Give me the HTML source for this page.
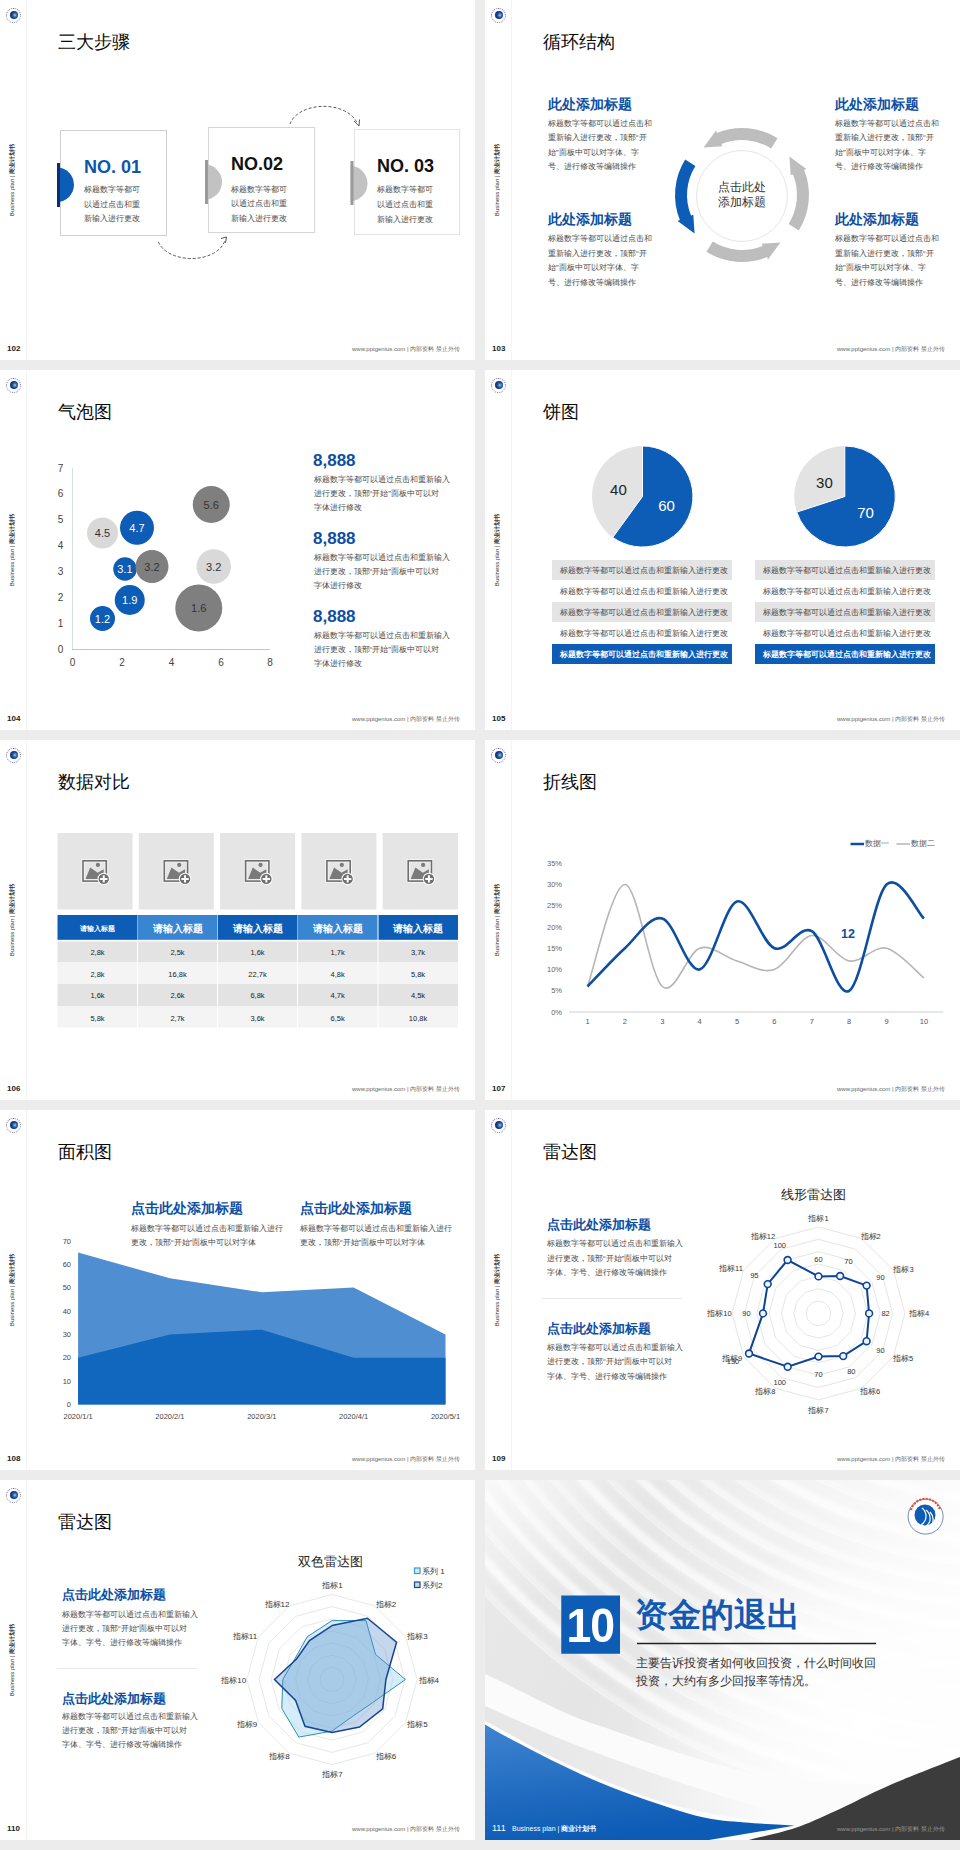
<!DOCTYPE html>
<html><head><meta charset="utf-8">
<style>
*{margin:0;padding:0;box-sizing:border-box}
html,body{width:960px;height:1850px;overflow:hidden;background:#ececec;font-family:"Liberation Sans",sans-serif;color:#333}
.s{position:absolute;width:475px;height:360px;background:#fff;overflow:hidden}
.s>*{position:absolute}
.logo{left:6px;top:7.5px;width:15px;height:15px;border-radius:50%;border:1.2px dotted #6d6aa6;}
.logo:after{content:"";position:absolute;left:2.8px;top:2.8px;width:7.8px;height:7.8px;border-radius:50%;background:radial-gradient(circle at 62% 52%,#9fd6f0 0,#3f78bd 24%,#173b7e 52%,#0f2a5e 100%)}
.vl{left:25.5px;top:0;width:1px;height:360px;background:#f4f4f4}
.side{left:12px;top:180px;width:90px;height:8px;margin-left:-45px;margin-top:-4px;transform:rotate(-90deg);font-size:6px;line-height:8px;text-align:center;color:#333;white-space:nowrap}
.pg{left:7px;top:344px;font-size:8px;line-height:10px;font-weight:bold;color:#222}
.ft{left:352px;top:345px;font-size:6px;line-height:8px;color:#666;white-space:nowrap}
.ttl{left:58px;top:30px;font-size:18px;line-height:24px;color:#0a0a0a;white-space:nowrap}
.t9{font-size:8.5px;line-height:14.4px;color:#474747;white-space:nowrap}
.h14{font-size:13.5px;line-height:16px;font-weight:bold;color:#0c4fa3;white-space:nowrap}
</style></head><body>

<!-- 102 -->
<div class="s" style="left:0;top:0">
<div class="logo"></div><div class="vl"></div><div class="side">Business plan | <b>商业计划书</b></div><div class="pg">102</div><div class="ft">www.pptgenius.com | 内部资料 禁止外传</div>
<div class="ttl">三大步骤</div>
<svg style="left:0;top:0" width="475" height="360">
<rect x="60.5" y="130.5" width="106" height="105" fill="#fff" stroke="#cfcfcf"/>
<rect x="208.5" y="127.5" width="106" height="105" fill="#fff" stroke="#d6d6d6"/>
<rect x="354.5" y="129.5" width="105" height="105" fill="#fff" stroke="#e3e3e3"/>
<path d="M57 167.5 A17 17.25 0 0 1 57 202 Z" fill="#0d5cb6"/><rect x="57" y="163" width="3" height="44" fill="#0b2f6e"/>
<path d="M205 164.5 A17 17.5 0 0 1 205 199.5 Z" fill="#c2c2c2"/><rect x="205" y="160" width="3" height="44" fill="#9a9a9a"/>
<path d="M350.5 166 A17 17.5 0 0 1 350.5 201 Z" fill="#c2c2c2"/><rect x="350.5" y="161" width="3" height="44" fill="#9a9a9a"/>
<path d="M290 124 A34.5 22.5 0 0 1 357 123" fill="none" stroke="#555" stroke-width="1" stroke-dasharray="3 2"/>
<path d="M354 121 L359 126 L359.5 119.5" fill="none" stroke="#555" stroke-width="1"/>
<path d="M158.5 242 A34 22 0 0 0 225 240" fill="none" stroke="#555" stroke-width="1" stroke-dasharray="3 2"/>
<path d="M221 238.5 L226.5 237 L225.5 243" fill="none" stroke="#555" stroke-width="1"/>
</svg>
<div style="left:84px;top:156px;font-size:18px;line-height:22px;font-weight:bold;color:#0d56ab;white-space:nowrap">NO. 01</div>
<div style="left:231px;top:153px;font-size:18px;line-height:22px;font-weight:bold;color:#111;white-space:nowrap">NO.02</div>
<div style="left:377px;top:155px;font-size:18px;line-height:22px;font-weight:bold;color:#111;white-space:nowrap">NO. 03</div>
<div class="t9" style="left:84px;top:183px;font-size:8px;line-height:14.6px">标题数字等都可<br>以通过点击和重<br>新输入进行更改</div>
<div class="t9" style="left:231px;top:182.5px;font-size:8px;line-height:14.8px">标题数字等都可<br>以通过点击和重<br>新输入进行更改</div>
<div class="t9" style="left:377px;top:183px;font-size:8px;line-height:14.8px">标题数字等都可<br>以通过点击和重<br>新输入进行更改</div>
</div>

<!-- 103 -->
<div class="s" style="left:485px;top:0">
<div class="logo"></div><div class="vl"></div><div class="side">Business plan | <b>商业计划书</b></div><div class="pg">103</div><div class="ft">www.pptgenius.com | 内部资料 禁止外传</div>
<div class="ttl">循环结构</div>
<svg style="left:0;top:0" width="475" height="360">
<circle cx="257" cy="196" r="45.5" fill="#fff" stroke="#e6e6e6" stroke-width="1"/>
<path d="M292.5 138.2 A67.0 67.0 0 0 0 231.9 132.9 L231.0 130.6 L218.6 147.6 L237.3 146.3 L236.4 144.0 A55.0 55.0 0 0 1 286.1 148.4 Z" fill="#bdbdbd"/>
<path d="M200.2 159.5 A67.0 67.0 0 0 0 194.9 220.1 L192.6 221.0 L209.6 233.4 L208.3 214.7 L206.0 215.6 A55.0 55.0 0 0 1 210.4 165.9 Z" fill="#0d5cb6"/>
<path d="M221.5 251.8 A67.0 67.0 0 0 0 282.1 257.1 L283.0 259.4 L295.4 242.4 L276.7 243.7 L277.6 246.0 A55.0 55.0 0 0 1 227.9 241.6 Z" fill="#bdbdbd"/>
<path d="M313.8 230.5 A67.0 67.0 0 0 0 319.1 169.9 L321.4 169.0 L304.4 156.6 L305.7 175.3 L308.0 174.4 A55.0 55.0 0 0 1 303.6 224.1 Z" fill="#bdbdbd"/>
</svg>
<div style="left:207px;top:180px;width:100px;text-align:center;font-size:12px;line-height:15px;color:#333">点击此处<br>添加标题</div>
<div class="h14" style="left:63px;top:96.5px">此处添加标题</div>
<div class="h14" style="left:350px;top:96.5px">此处添加标题</div>
<div class="h14" style="left:63px;top:212px">此处添加标题</div>
<div class="h14" style="left:350px;top:212px">此处添加标题</div>
<div class="t9" style="left:63px;top:116.8px;font-size:8px;line-height:14.4px">标题数字等都可以通过点击和<br>重新输入进行更改，顶部“开<br>始”面板中可以对字体、字<br>号、进行修改等编辑操作</div>
<div class="t9" style="left:350px;top:116.8px;font-size:8px;line-height:14.4px">标题数字等都可以通过点击和<br>重新输入进行更改，顶部“开<br>始”面板中可以对字体、字<br>号、进行修改等编辑操作</div>
<div class="t9" style="left:63px;top:232.3px;font-size:8px;line-height:14.4px">标题数字等都可以通过点击和<br>重新输入进行更改，顶部“开<br>始”面板中可以对字体、字<br>号、进行修改等编辑操作</div>
<div class="t9" style="left:350px;top:232.3px;font-size:8px;line-height:14.4px">标题数字等都可以通过点击和<br>重新输入进行更改，顶部“开<br>始”面板中可以对字体、字<br>号、进行修改等编辑操作</div>
</div>

<!-- 104 -->
<div class="s" style="left:0;top:370px">
<div class="logo"></div><div class="vl"></div><div class="side">Business plan | <b>商业计划书</b></div><div class="pg">104</div><div class="ft">www.pptgenius.com | 内部资料 禁止外传</div>
<div class="ttl">气泡图</div>
<svg style="left:0;top:0" width="475" height="360" font-family="Liberation Sans" font-size="10">
<line x1="72.5" y1="98" x2="72.5" y2="279.5" stroke="#d5dde8" stroke-width="1"/>
<line x1="72" y1="279.5" x2="270" y2="279.5" stroke="#b9c9dd" stroke-width="1"/>
<g fill="#444" text-anchor="middle">
<text x="60.5" y="283">0</text><text x="60.5" y="257">1</text><text x="60.5" y="231">2</text><text x="60.5" y="205">3</text><text x="60.5" y="179">4</text><text x="60.5" y="153">5</text><text x="60.5" y="127">6</text><text x="60.5" y="101.5">7</text>
<text x="72.5" y="296">0</text><text x="122" y="296">2</text><text x="171.5" y="296">4</text><text x="221" y="296">6</text><text x="270" y="296">8</text>
</g>
<circle cx="102.5" cy="163" r="15.5" fill="#d9d9d9"/>
<circle cx="137" cy="157.75" r="17" fill="#0d5cb6"/>
<circle cx="211.25" cy="134.5" r="18.5" fill="#7f7f7f"/>
<circle cx="125" cy="199" r="11.75" fill="#0d5cb6"/>
<circle cx="152" cy="196.5" r="16.5" fill="#7f7f7f"/>
<circle cx="213.75" cy="196.5" r="17.25" fill="#d9d9d9"/>
<circle cx="129.75" cy="230" r="15" fill="#0d5cb6"/>
<circle cx="198.75" cy="238" r="23.5" fill="#7f7f7f"/>
<circle cx="102.5" cy="248.5" r="12.5" fill="#0d5cb6"/>
<g text-anchor="middle" font-size="11">
<text x="102.5" y="167" fill="#333">4.5</text>
<text x="137" y="161.75" fill="#fff">4.7</text>
<text x="211.25" y="138.5" fill="#333">5.6</text>
<text x="125" y="203" fill="#fff">3.1</text>
<text x="152" y="200.5" fill="#333">3.2</text>
<text x="213.75" y="200.5" fill="#333">3.2</text>
<text x="129.75" y="234" fill="#fff">1.9</text>
<text x="198.75" y="242" fill="#333">1.6</text>
<text x="102.5" y="252.5" fill="#fff">1.2</text>
</g>
</svg>
<div style="left:313px;top:81px;font-size:17px;line-height:20px;font-weight:bold;color:#0d4ea3">8,888</div>
<div style="left:313px;top:159px;font-size:17px;line-height:20px;font-weight:bold;color:#0d4ea3">8,888</div>
<div style="left:313px;top:237px;font-size:17px;line-height:20px;font-weight:bold;color:#0d4ea3">8,888</div>
<div class="t9" style="left:313.5px;top:103px;font-size:8px;line-height:14px">标题数字等都可以通过点击和重新输入<br>进行更改，顶部“开始”面板中可以对<br>字体进行修改</div>
<div class="t9" style="left:313.5px;top:181px;font-size:8px;line-height:14px">标题数字等都可以通过点击和重新输入<br>进行更改，顶部“开始”面板中可以对<br>字体进行修改</div>
<div class="t9" style="left:313.5px;top:259px;font-size:8px;line-height:14px">标题数字等都可以通过点击和重新输入<br>进行更改，顶部“开始”面板中可以对<br>字体进行修改</div>
</div>

<!-- 105 -->
<div class="s" style="left:485px;top:370px">
<div class="logo"></div><div class="vl"></div><div class="side">Business plan | <b>商业计划书</b></div><div class="pg">105</div><div class="ft">www.pptgenius.com | 内部资料 禁止外传</div>
<div class="ttl">饼图</div>
<svg style="left:0;top:0" width="475" height="360" font-family="Liberation Sans">
<circle cx="157.5" cy="126.5" r="50.5" fill="#e3e3e3"/>
<path d="M157.5 126.5 L157.5 76 A50.5 50.5 0 1 1 127.8 167.4 Z" fill="#0d5cb6" stroke="#fff" stroke-width="1"/>
<circle cx="359.8" cy="126.5" r="50.5" fill="#e3e3e3"/>
<path d="M359.8 126.5 L359.8 76 A50.5 50.5 0 1 1 311.8 142.1 Z" fill="#0d5cb6" stroke="#fff" stroke-width="1"/>
<g font-size="15" text-anchor="middle">
<text x="133.4" y="124.6" fill="#222">40</text>
<text x="181.5" y="140.5" fill="#fff">60</text>
<text x="339.4" y="118" fill="#222">30</text>
<text x="380.5" y="148" fill="#fff">70</text>
</g>
<g fill="#e4e4e4"><rect x="67" y="190" width="180" height="20"/><rect x="67" y="232" width="180" height="20"/><rect x="270" y="190" width="180" height="20"/><rect x="270" y="232" width="180" height="20"/></g>
<g fill="#0d5cb6"><rect x="67" y="274" width="180" height="20"/><rect x="270" y="274" width="180" height="20"/></g>
</svg>
<div class="t9" style="left:75px;top:190px;font-size:7.85px;line-height:21px">标题数字等都可以通过点击和重新输入进行更改<br>标题数字等都可以通过点击和重新输入进行更改<br>标题数字等都可以通过点击和重新输入进行更改<br>标题数字等都可以通过点击和重新输入进行更改<br><b style="color:#fff">标题数字等都可以通过点击和重新输入进行更改</b></div>
<div class="t9" style="left:278px;top:190px;font-size:7.85px;line-height:21px">标题数字等都可以通过点击和重新输入进行更改<br>标题数字等都可以通过点击和重新输入进行更改<br>标题数字等都可以通过点击和重新输入进行更改<br>标题数字等都可以通过点击和重新输入进行更改<br><b style="color:#fff">标题数字等都可以通过点击和重新输入进行更改</b></div>
</div>

<!-- 106 -->
<div class="s" style="left:0;top:740px">
<div class="logo"></div><div class="vl"></div><div class="side">Business plan | <b>商业计划书</b></div><div class="pg">106</div><div class="ft">www.pptgenius.com | 内部资料 禁止外传</div>
<div class="ttl">数据对比</div>
<svg style="left:0;top:0" width="475" height="360" font-family="Liberation Sans">

<g fill="#e6e5e6">
<rect x="57.5" y="93" width="75" height="76.5"/><rect x="138.8" y="93" width="75" height="76.5"/><rect x="220.1" y="93" width="75" height="76.5"/><rect x="301.4" y="93" width="75" height="76.5"/><rect x="382.7" y="93" width="75.3" height="76.5"/>
</g>
<g transform="translate(57.5 93)">
<rect x="25.5" y="27.8" width="23.3" height="20.3" fill="none" stroke="#fff" stroke-width="3.2" opacity=".7"/>
<rect x="25.5" y="27.8" width="23.3" height="20.3" fill="none" stroke="#6e6e6e" stroke-width="1.6"/>
<path d="M28 45.9 L32.7 34.6 L40.2 39.8 L46.2 36.3 L46.2 45.9 Z" fill="#7a7a7a"/>
<circle cx="40.4" cy="31.9" r="2.1" fill="#7a7a7a"/>
<circle cx="46.25" cy="45.9" r="6.2" fill="#fff"/>
<circle cx="46.25" cy="45.9" r="5.2" fill="#6e6e6e"/>
<path d="M46.25 42.2 V49.6 M42.55 45.9 H49.95" stroke="#fff" stroke-width="2"/>
</g><g transform="translate(138.8 93)">
<rect x="25.5" y="27.8" width="23.3" height="20.3" fill="none" stroke="#fff" stroke-width="3.2" opacity=".7"/>
<rect x="25.5" y="27.8" width="23.3" height="20.3" fill="none" stroke="#6e6e6e" stroke-width="1.6"/>
<path d="M28 45.9 L32.7 34.6 L40.2 39.8 L46.2 36.3 L46.2 45.9 Z" fill="#7a7a7a"/>
<circle cx="40.4" cy="31.9" r="2.1" fill="#7a7a7a"/>
<circle cx="46.25" cy="45.9" r="6.2" fill="#fff"/>
<circle cx="46.25" cy="45.9" r="5.2" fill="#6e6e6e"/>
<path d="M46.25 42.2 V49.6 M42.55 45.9 H49.95" stroke="#fff" stroke-width="2"/>
</g><g transform="translate(220.1 93)">
<rect x="25.5" y="27.8" width="23.3" height="20.3" fill="none" stroke="#fff" stroke-width="3.2" opacity=".7"/>
<rect x="25.5" y="27.8" width="23.3" height="20.3" fill="none" stroke="#6e6e6e" stroke-width="1.6"/>
<path d="M28 45.9 L32.7 34.6 L40.2 39.8 L46.2 36.3 L46.2 45.9 Z" fill="#7a7a7a"/>
<circle cx="40.4" cy="31.9" r="2.1" fill="#7a7a7a"/>
<circle cx="46.25" cy="45.9" r="6.2" fill="#fff"/>
<circle cx="46.25" cy="45.9" r="5.2" fill="#6e6e6e"/>
<path d="M46.25 42.2 V49.6 M42.55 45.9 H49.95" stroke="#fff" stroke-width="2"/>
</g><g transform="translate(301.4 93)">
<rect x="25.5" y="27.8" width="23.3" height="20.3" fill="none" stroke="#fff" stroke-width="3.2" opacity=".7"/>
<rect x="25.5" y="27.8" width="23.3" height="20.3" fill="none" stroke="#6e6e6e" stroke-width="1.6"/>
<path d="M28 45.9 L32.7 34.6 L40.2 39.8 L46.2 36.3 L46.2 45.9 Z" fill="#7a7a7a"/>
<circle cx="40.4" cy="31.9" r="2.1" fill="#7a7a7a"/>
<circle cx="46.25" cy="45.9" r="6.2" fill="#fff"/>
<circle cx="46.25" cy="45.9" r="5.2" fill="#6e6e6e"/>
<path d="M46.25 42.2 V49.6 M42.55 45.9 H49.95" stroke="#fff" stroke-width="2"/>
</g><g transform="translate(382.7 93)">
<rect x="25.5" y="27.8" width="23.3" height="20.3" fill="none" stroke="#fff" stroke-width="3.2" opacity=".7"/>
<rect x="25.5" y="27.8" width="23.3" height="20.3" fill="none" stroke="#6e6e6e" stroke-width="1.6"/>
<path d="M28 45.9 L32.7 34.6 L40.2 39.8 L46.2 36.3 L46.2 45.9 Z" fill="#7a7a7a"/>
<circle cx="40.4" cy="31.9" r="2.1" fill="#7a7a7a"/>
<circle cx="46.25" cy="45.9" r="6.2" fill="#fff"/>
<circle cx="46.25" cy="45.9" r="5.2" fill="#6e6e6e"/>
<path d="M46.25 42.2 V49.6 M42.55 45.9 H49.95" stroke="#fff" stroke-width="2"/>
</g>
<rect x="57.5" y="175" width="80" height="24.8" fill="#0d5cb6"/>
<rect x="138" y="175" width="79.5" height="24.8" fill="#3a85d2"/>
<rect x="218" y="175" width="79.5" height="24.8" fill="#0d5cb6"/>
<rect x="298" y="175" width="79.5" height="24.8" fill="#3a85d2"/>
<rect x="378.5" y="175" width="79.5" height="24.8" fill="#0d5cb6"/>
<g fill="#e3e3e3"><rect x="57.5" y="201.5" width="400.5" height="20.5"/><rect x="57.5" y="244" width="400.5" height="22"/></g>
<g fill="#f4f4f4"><rect x="57.5" y="222" width="400.5" height="22"/><rect x="57.5" y="266" width="400.5" height="21.5"/></g>
<g stroke="#fff" stroke-width="1"><line x1="137.5" y1="201" x2="137.5" y2="288"/><line x1="217.5" y1="201" x2="217.5" y2="288"/><line x1="297.5" y1="201" x2="297.5" y2="288"/><line x1="378" y1="201" x2="378" y2="288"/></g>
<g fill="#fff" font-weight="bold" text-anchor="middle">
<text x="97.5" y="190.5" font-size="7">请输入标题</text>
<text x="177.5" y="191.5" font-size="9.5">请输入标题</text><text x="257.5" y="191.5" font-size="9.5">请输入标题</text><text x="337.7" y="191.5" font-size="9.5">请输入标题</text><text x="418" y="191.5" font-size="9.5">请输入标题</text>
</g>
<g fill="#222" font-size="7.5" text-anchor="middle">
<text x="97.5" y="214.8">2,8k</text><text x="177.5" y="214.8">2,5k</text><text x="257.5" y="214.8">1,6k</text><text x="337.7" y="214.8">1,7k</text><text x="418" y="214.8">3,7k</text>
<text x="97.5" y="236.7">2,8k</text><text x="177.5" y="236.7">16,8k</text><text x="257.5" y="236.7">22,7k</text><text x="337.7" y="236.7">4,8k</text><text x="418" y="236.7">5,8k</text>
<text x="97.5" y="258.4">1,6k</text><text x="177.5" y="258.4">2,6k</text><text x="257.5" y="258.4">6,8k</text><text x="337.7" y="258.4">4,7k</text><text x="418" y="258.4">4,5k</text>
<text x="97.5" y="280.5">5,8k</text><text x="177.5" y="280.5">2,7k</text><text x="257.5" y="280.5">3,6k</text><text x="337.7" y="280.5">6,5k</text><text x="418" y="280.5">10,8k</text>
</g>
</svg>
</div>

<!-- 107 -->
<div class="s" style="left:485px;top:740px">
<div class="logo"></div><div class="vl"></div><div class="side">Business plan | <b>商业计划书</b></div><div class="pg">107</div><div class="ft">www.pptgenius.com | 内部资料 禁止外传</div>
<div class="ttl">折线图</div>
<svg style="left:0;top:0" width="475" height="360" font-family="Liberation Sans">
<line x1="84" y1="272" x2="458.5" y2="272" stroke="#d0d0d0" stroke-width="1"/>
<g fill="#666" font-size="7.5" text-anchor="end">
<text x="77" y="274.7">0%</text><text x="77" y="253.4">5%</text><text x="77" y="232.2">10%</text><text x="77" y="210.9">15%</text><text x="77" y="189.7">20%</text><text x="77" y="168.4">25%</text><text x="77" y="147.2">30%</text><text x="77" y="125.9">35%</text>
</g>
<g fill="#555" font-size="7.5" text-anchor="middle">
<text x="102.5" y="284">1</text><text x="139.9" y="284">2</text><text x="177.3" y="284">3</text><text x="214.6" y="284">4</text><text x="252" y="284">5</text><text x="289.4" y="284">6</text><text x="326.8" y="284">7</text><text x="364.2" y="284">8</text><text x="401.5" y="284">9</text><text x="438.9" y="284">10</text>
</g>
<path d="M102.5 246.5 C108.7 229.5 127.4 144.5 139.9 144.5 C152.3 144.5 164.8 235.9 177.3 246.5 C189.7 257.1 202.2 212.5 214.6 208.2 C227.1 204.0 239.6 217.5 252.0 221.0 C264.5 224.5 276.9 233.8 289.4 229.5 C301.9 225.2 314.3 196.9 326.8 195.5 C339.2 194.1 351.7 218.9 364.2 221.0 C376.6 223.1 389.1 205.4 401.5 208.2 C414.0 211.1 432.7 233.0 438.9 238.0" fill="none" stroke="#b5b5b5" stroke-width="1.6"/>
<path d="M102.5 246.5 C108.7 240.1 127.4 219.6 139.9 208.2 C152.3 196.9 164.8 175.0 177.3 178.5 C189.7 182.0 202.2 232.3 214.6 229.5 C227.1 226.7 239.6 165.0 252.0 161.5 C264.5 158.0 276.9 203.3 289.4 208.2 C301.9 213.2 314.3 184.2 326.8 191.2 C339.2 198.3 351.7 258.5 364.2 250.8 C376.6 243.0 389.1 156.5 401.5 144.5 C414.0 132.5 432.7 172.8 438.9 178.5" fill="none" stroke="#0d4ea0" stroke-width="2.6"/>
<line x1="365.5" y1="104" x2="379" y2="104" stroke="#0d4ea0" stroke-width="2.5"/>
<line x1="411.5" y1="104" x2="425" y2="104" stroke="#b5b5b5" stroke-width="1.5"/>
<text x="356" y="198" font-size="12.5" font-weight="bold" fill="#0d4ea0">12</text>
</svg>
<div style="left:380px;top:99px;font-size:8px;line-height:10px;color:#555;white-space:nowrap">数据一</div>
<div style="left:426px;top:99px;font-size:8px;line-height:10px;color:#555;white-space:nowrap">数据二</div>
</div>

<!-- 108 -->
<div class="s" style="left:0;top:1110px">
<div class="logo"></div><div class="vl"></div><div class="side">Business plan | <b>商业计划书</b></div><div class="pg">108</div><div class="ft">www.pptgenius.com | 内部资料 禁止外传</div>
<div class="ttl">面积图</div>
<svg style="left:0;top:0" width="475" height="360" font-family="Liberation Sans">
<polygon points="78.1,294.5 78.1,142.6 169.9,168.3 261.8,182.3 353.6,177.6 445.5,224.4 445.5,294.5" fill="#4e8ed1"/>
<polygon points="78.1,294.5 78.1,247.8 169.9,224.4 261.8,219.7 353.6,247.8 445.5,247.8 445.5,294.5" fill="#1167be"/>
<g fill="#444" font-size="7.5" text-anchor="end">
<text x="71" y="297.1">0</text><text x="71" y="273.7">10</text><text x="71" y="250.4">20</text><text x="71" y="227.0">30</text><text x="71" y="203.6">40</text><text x="71" y="180.2">50</text><text x="71" y="156.9">60</text><text x="71" y="133.5">70</text>
</g>
<g fill="#444" font-size="7.5" text-anchor="middle">
<text x="78.1" y="308.5">2020/1/1</text><text x="169.9" y="308.5">2020/2/1</text><text x="261.8" y="308.5">2020/3/1</text><text x="353.6" y="308.5">2020/4/1</text><text x="445.5" y="308.5">2020/5/1</text>
</g>
</svg>
<div class="h14" style="left:130.5px;top:90.5px;font-size:13.5px">点击此处添加标题</div>
<div class="h14" style="left:299.5px;top:90.5px;font-size:13.5px">点击此处添加标题</div>
<div class="t9" style="left:131px;top:111.5px;font-size:8px;line-height:14.2px">标题数字等都可以通过点击和重新输入进行<br>更改，顶部“开始”面板中可以对字体</div>
<div class="t9" style="left:300px;top:111.5px;font-size:8px;line-height:14.2px">标题数字等都可以通过点击和重新输入进行<br>更改，顶部“开始”面板中可以对字体</div>
</div>

<!-- 109 -->
<div class="s" style="left:485px;top:1110px">
<div class="logo"></div><div class="vl"></div><div class="side">Business plan | <b>商业计划书</b></div><div class="pg">109</div><div class="ft">www.pptgenius.com | 内部资料 禁止外传</div>
<div class="ttl">雷达图</div>
<svg style="left:0;top:0" width="475" height="360" font-family="Liberation Sans">
<line x1="56.5" y1="188.5" x2="197" y2="188.5" stroke="#e8e8e8" stroke-width="1"/>
<g fill="none" stroke="#e6e6e6" stroke-width="1">
<polygon points="333.5,191.1 339.7,192.7 344.2,197.2 345.9,203.4 344.2,209.6 339.7,214.1 333.5,215.8 327.3,214.1 322.8,209.6 321.1,203.4 322.8,197.2 327.3,192.7"/>
<polygon points="333.5,178.7 345.9,182.0 354.9,191.1 358.2,203.4 354.9,215.8 345.9,224.8 333.5,228.1 321.1,224.8 312.1,215.8 308.8,203.4 312.1,191.1 321.1,182.0"/>
<polygon points="333.5,166.4 352.0,171.3 365.6,184.9 370.6,203.4 365.6,221.9 352.0,235.5 333.5,240.4 315.0,235.5 301.4,221.9 296.4,203.4 301.4,184.9 315.0,171.3"/>
<polygon points="333.5,154.0 358.2,160.6 376.3,178.7 382.9,203.4 376.3,228.1 358.2,246.2 333.5,252.8 308.8,246.2 290.7,228.1 284.1,203.4 290.7,178.7 308.8,160.6"/>
<polygon points="333.5,141.7 364.4,149.9 387.0,172.5 395.2,203.4 387.0,234.3 364.4,256.9 333.5,265.1 302.6,256.9 280.0,234.3 271.8,203.4 280.0,172.5 302.6,149.9"/>
<polygon points="333.5,129.3 370.6,139.2 397.7,166.4 407.6,203.4 397.7,240.4 370.6,267.6 333.5,277.5 296.5,267.6 269.3,240.4 259.4,203.4 269.3,166.3 296.4,139.2"/>
<polygon points="333.5,117.0 376.7,128.5 408.4,160.2 419.9,203.4 408.4,246.6 376.7,278.3 333.5,289.9 290.3,278.3 258.6,246.6 247.1,203.4 258.6,160.2 290.3,128.5"/>
</g>
<polygon points="333.5,166.4 355.1,166.0 381.6,175.6 384.1,203.4 381.6,231.2 358.2,246.1 333.5,246.6 302.7,256.8 264.0,243.5 278.0,203.4 282.7,174.1 302.6,150.0" fill="none" stroke="#0d4497" stroke-width="2"/>
<g fill="#eef6fc" stroke="#0d4497" stroke-width="1.6">
<circle cx="333.5" cy="166.4" r="3.4"/><circle cx="355.1" cy="166.0" r="3.4"/><circle cx="381.6" cy="175.6" r="3.4"/><circle cx="384.1" cy="203.4" r="3.4"/><circle cx="381.6" cy="231.2" r="3.4"/><circle cx="358.2" cy="246.1" r="3.4"/><circle cx="333.5" cy="246.6" r="3.4"/><circle cx="302.7" cy="256.8" r="3.4"/><circle cx="264.0" cy="243.5" r="3.4"/><circle cx="278.0" cy="203.4" r="3.4"/><circle cx="282.7" cy="174.1" r="3.4"/><circle cx="302.6" cy="150.0" r="3.4"/>
</g>
<g fill="#333" font-size="7.5" text-anchor="middle">
<text x="333.5" y="111">指标1</text><text x="385.7" y="128.7">指标2</text><text x="418.5" y="161.5">指标3</text><text x="434" y="206.1">指标4</text><text x="418" y="251.3">指标5</text><text x="385" y="284.2">指标6</text><text x="333.5" y="302.7">指标7</text><text x="280.3" y="284.2">指标8</text><text x="247" y="250.7">指标9</text><text x="234.5" y="206.1">指标10</text><text x="246" y="161.2">指标11</text><text x="278" y="128.7">指标12</text>
<text x="333.5" y="152.3">60</text><text x="363.5" y="154.1">70</text><text x="395.4" y="170.2">90</text><text x="400.6" y="206.1">82</text><text x="395.4" y="243.3">90</text><text x="366.3" y="264.1">80</text><text x="333.5" y="267.3">70</text><text x="294.8" y="275.3">100</text><text x="248" y="254">130</text><text x="261.5" y="206.1">90</text><text x="269.3" y="168.3">95</text><text x="294.8" y="138.1">100</text>
</g>
<text x="328" y="88.5" font-size="13" fill="#222" text-anchor="middle">线形雷达图</text>
</svg>
<div class="h14" style="left:61.5px;top:107px;font-size:13px">点击此处添加标题</div>
<div class="h14" style="left:61.5px;top:210.7px;font-size:13px">点击此处添加标题</div>
<div class="t9" style="left:62px;top:127px;font-size:8px;line-height:14.5px">标题数字等都可以通过点击和重新输入<br>进行更改，顶部“开始”面板中可以对<br>字体、字号、进行修改等编辑操作</div>
<div class="t9" style="left:62px;top:230.7px;font-size:8px;line-height:14.5px">标题数字等都可以通过点击和重新输入<br>进行更改，顶部“开始”面板中可以对<br>字体、字号、进行修改等编辑操作</div>
</div>

<!-- 110 -->
<div class="s" style="left:0;top:1480px">
<div class="logo"></div><div class="vl"></div><div class="side">Business plan | <b>商业计划书</b></div><div class="pg">110</div><div class="ft">www.pptgenius.com | 内部资料 禁止外传</div>
<div class="ttl">雷达图</div>
<svg style="left:0;top:0" width="475" height="360" font-family="Liberation Sans">
<line x1="56.5" y1="188.5" x2="197.5" y2="188.5" stroke="#e8e8e8" stroke-width="1"/>
<g fill="none" stroke="#e8e8e8" stroke-width="1">
<polygon points="332.0,187.3 338.1,189.0 342.5,193.4 344.1,199.5 342.5,205.6 338.1,210.0 332.0,211.7 325.9,210.0 321.5,205.6 319.9,199.5 321.5,193.4 325.9,189.0"/>
<polygon points="332.0,175.2 344.1,178.5 353.0,187.3 356.3,199.5 353.0,211.7 344.1,220.5 332.0,223.8 319.9,220.5 311.0,211.7 307.7,199.5 311.0,187.3 319.8,178.5"/>
<polygon points="332.0,163.1 350.2,167.9 363.6,181.3 368.4,199.5 363.6,217.7 350.2,231.1 332.0,235.9 313.8,231.1 300.4,217.7 295.6,199.5 300.4,181.3 313.8,167.9"/>
<polygon points="332.0,150.9 356.3,157.4 374.1,175.2 380.6,199.5 374.1,223.8 356.3,241.6 332.0,248.1 307.7,241.6 289.9,223.8 283.4,199.5 289.9,175.2 307.7,157.4"/>
<polygon points="332.0,138.8 362.4,146.9 384.6,169.1 392.8,199.5 384.6,229.9 362.4,252.1 332.0,260.2 301.6,252.1 279.4,229.9 271.2,199.5 279.4,169.1 301.6,146.9"/>
<polygon points="332.0,126.6 368.4,136.4 395.1,163.1 404.9,199.5 395.1,235.9 368.4,262.6 332.0,272.4 295.6,262.6 268.9,235.9 259.1,199.5 268.9,163.0 295.5,136.4"/>
<polygon points="332.0,114.5 374.5,125.8 405.7,157.0 417.1,199.5 405.7,242.0 374.5,273.2 332.0,284.6 289.5,273.2 258.3,242.0 246.9,199.5 258.3,157.0 289.5,125.8"/>
</g>
<polygon points="332.0,140.6 366.0,140.6 375.5,174.4 405.4,199.5 372.4,222.8 353.1,236.0 332.0,251.1 298.8,257.1 281.8,228.5 282.8,199.5 295.2,178.2 307.3,156.7" fill="rgba(160,215,240,0.45)" stroke="#2f8fb5" stroke-width="1"/>
<polygon points="332.0,145.6 367.4,138.2 396.6,162.2 385.9,199.5 382.7,228.8 359.5,247.1 332.0,252.6 305.0,246.3 295.6,220.5 274.5,199.5 296.5,179.0 309.5,160.5" fill="rgba(86,141,203,0.35)" stroke="#1a4490" stroke-width="1.5"/>
<g fill="#333" font-size="8" text-anchor="middle">
<text x="332.5" y="107.8">指标1</text><text x="386" y="127.3">指标2</text><text x="417.5" y="158.8">指标3</text><text x="428.8" y="202.8">指标4</text><text x="417.5" y="246.5">指标5</text><text x="386" y="278.5">指标6</text><text x="332.5" y="297.3">指标7</text><text x="279.5" y="278.5">指标8</text><text x="247" y="246.5">指标9</text><text x="233.8" y="202.8">指标10</text><text x="245" y="158.8">指标11</text><text x="277" y="127.3">指标12</text>
</g>
<rect x="414.5" y="88" width="5.5" height="5.5" fill="#d4ecf8" stroke="#2f9fd0" stroke-width="1.2"/>
<rect x="414.5" y="102" width="5.5" height="5.5" fill="#c4d8ef" stroke="#1a4490" stroke-width="1.2"/>
<text x="422" y="94" font-size="8" fill="#333">系列 1</text>
<text x="422" y="108" font-size="8" fill="#333">系列2</text>
<text x="330" y="85.5" font-size="13" fill="#222" text-anchor="middle">双色雷达图</text>
</svg>
<div class="h14" style="left:61.5px;top:107px;font-size:13px">点击此处添加标题</div>
<div class="h14" style="left:61.5px;top:211px;font-size:13px">点击此处添加标题</div>
<div class="t9" style="left:62px;top:128px;font-size:8px;line-height:14px">标题数字等都可以通过点击和重新输入<br>进行更改，顶部“开始”面板中可以对<br>字体、字号、进行修改等编辑操作</div>
<div class="t9" style="left:62px;top:230px;font-size:8px;line-height:14px">标题数字等都可以通过点击和重新输入<br>进行更改，顶部“开始”面板中可以对<br>字体、字号、进行修改等编辑操作</div>
</div>

<!-- 111 -->
<div class="s" style="left:485px;top:1480px;background:linear-gradient(110deg,#e9e9e9 0%,#e5e5e5 30%,#ececec 55%,#f6f6f6 80%,#fdfdfd 100%)">
<svg style="left:0;top:0" width="475" height="360" font-family="Liberation Sans">
<defs><linearGradient id="bg111" x1="0" y1="0" x2="0.3" y2="1"><stop offset="0" stop-color="#3f84d1"/><stop offset="1" stop-color="#0c5bb5"/></linearGradient>
<linearGradient id="gb111" x1="0" y1="0" x2="1" y2="0"><stop offset="0" stop-color="#e6e6e6"/><stop offset=".55" stop-color="#ececec"/><stop offset="1" stop-color="#fbfbfb"/></linearGradient>
<filter id="blur111" x="-10%" y="-10%" width="120%" height="120%"><feGaussianBlur stdDeviation="2.2"/></filter>
<linearGradient id="rw111" x1="0.35" y1="0.3" x2="1" y2="0.1"><stop offset="0" stop-color="#fff" stop-opacity="0"/><stop offset="1" stop-color="#fff" stop-opacity=".7"/></linearGradient>
<radialGradient id="tl111" cx="0" cy="0" r="0.35"><stop offset="0" stop-color="#fff" stop-opacity=".7"/><stop offset="1" stop-color="#fff" stop-opacity="0"/></radialGradient>
<radialGradient id="wh111" cx="0.8" cy="0.68" r="0.5"><stop offset="0" stop-color="#fff" stop-opacity="1"/><stop offset="0.55" stop-color="#fff" stop-opacity=".6"/><stop offset="1" stop-color="#fff" stop-opacity="0"/></radialGradient>
</defs>
<rect x="0" y="0" width="475" height="360" fill="url(#wh111)"/>
<g filter="url(#blur111)">
<circle cx="520" cy="-380" r="400" fill="none" stroke="#fff" stroke-width="7" opacity="0.75"/>
<circle cx="520" cy="-380" r="421" fill="none" stroke="#fff" stroke-width="4" opacity="0.55"/>
<circle cx="520" cy="-380" r="442" fill="none" stroke="#fff" stroke-width="9" opacity="0.7"/>
<circle cx="520" cy="-380" r="463" fill="none" stroke="#fff" stroke-width="5" opacity="0.5"/>
<circle cx="520" cy="-380" r="484" fill="none" stroke="#fff" stroke-width="6" opacity="0.65"/>
<circle cx="520" cy="-380" r="505" fill="none" stroke="#fff" stroke-width="8" opacity="0.6"/>
<circle cx="520" cy="-380" r="526" fill="none" stroke="#fff" stroke-width="7" opacity="0.75"/>
<circle cx="520" cy="-380" r="547" fill="none" stroke="#fff" stroke-width="4" opacity="0.55"/>
<circle cx="520" cy="-380" r="568" fill="none" stroke="#fff" stroke-width="9" opacity="0.7"/>
<circle cx="520" cy="-380" r="589" fill="none" stroke="#fff" stroke-width="5" opacity="0.5"/>
<circle cx="520" cy="-380" r="610" fill="none" stroke="#fff" stroke-width="6" opacity="0.65"/>
<circle cx="520" cy="-380" r="631" fill="none" stroke="#fff" stroke-width="8" opacity="0.6"/>
<circle cx="520" cy="-380" r="652" fill="none" stroke="#fff" stroke-width="7" opacity="0.75"/>
<circle cx="520" cy="-380" r="673" fill="none" stroke="#fff" stroke-width="4" opacity="0.55"/>
<circle cx="520" cy="-380" r="694" fill="none" stroke="#fff" stroke-width="9" opacity="0.7"/>
<circle cx="520" cy="-380" r="715" fill="none" stroke="#fff" stroke-width="5" opacity="0.5"/>
</g>
<g>
<circle cx="520" cy="-380" r="403" fill="none" stroke="#fff" stroke-width="1" opacity="0.55"/>
<circle cx="520" cy="-380" r="424" fill="none" stroke="#fff" stroke-width="1" opacity="0.55"/>
<circle cx="520" cy="-380" r="445" fill="none" stroke="#fff" stroke-width="1" opacity="0.55"/>
<circle cx="520" cy="-380" r="466" fill="none" stroke="#fff" stroke-width="1" opacity="0.55"/>
<circle cx="520" cy="-380" r="487" fill="none" stroke="#fff" stroke-width="1" opacity="0.55"/>
<circle cx="520" cy="-380" r="508" fill="none" stroke="#fff" stroke-width="1" opacity="0.55"/>
<circle cx="520" cy="-380" r="529" fill="none" stroke="#fff" stroke-width="1" opacity="0.55"/>
<circle cx="520" cy="-380" r="550" fill="none" stroke="#fff" stroke-width="1" opacity="0.55"/>
<circle cx="520" cy="-380" r="571" fill="none" stroke="#fff" stroke-width="1" opacity="0.55"/>
<circle cx="520" cy="-380" r="592" fill="none" stroke="#fff" stroke-width="1" opacity="0.55"/>
<circle cx="520" cy="-380" r="613" fill="none" stroke="#fff" stroke-width="1" opacity="0.55"/>
<circle cx="520" cy="-380" r="634" fill="none" stroke="#fff" stroke-width="1" opacity="0.55"/>
<circle cx="520" cy="-380" r="655" fill="none" stroke="#fff" stroke-width="1" opacity="0.55"/>
<circle cx="520" cy="-380" r="676" fill="none" stroke="#fff" stroke-width="1" opacity="0.55"/>
<circle cx="520" cy="-380" r="697" fill="none" stroke="#fff" stroke-width="1" opacity="0.55"/>
<circle cx="520" cy="-380" r="718" fill="none" stroke="#fff" stroke-width="1" opacity="0.55"/>
</g>
<rect x="0" y="0" width="475" height="360" fill="url(#rw111)"/>
<rect x="0" y="0" width="475" height="360" fill="url(#tl111)"/>
<path d="M0 194 C40 212 80 236 120 247.5 C160 262 200 276 260 292 C330 308 400 306 475 300 L475 360 L0 360 Z" fill="#fbfbfb"/>
<path d="M0 226 C40 244 80 262 120 276 C170 294 220 312 290 332 L290 360 L0 360 Z" fill="url(#gb111)"/>
<path d="M0 360 L0 241 C10 246 30 257 50 268.5 C80 284 120 302 160 316.5 C200 330 240 338 300 343 L300 360 Z" fill="#fdfdfd"/>
<path d="M0 360 L0 244.5 C2.8 246.1 8.4 249.7 16.7 254.2 C25.0 258.7 38.9 266.0 50.0 271.7 C61.1 277.4 72.2 283.0 83.3 288.3 C94.4 293.6 103.9 298.1 116.7 303.3 C129.5 308.5 143.3 313.9 160.0 319.5 C176.7 325.1 200.0 333.2 216.7 337.0 C233.4 340.8 244.4 341.1 260.0 342.5 C275.6 343.9 301.7 345.1 310.0 345.6 L224 360 Z" fill="url(#bg111)"/>
<path d="M475 360 L475 277 C463.3 281.7 425.4 296.2 404.6 305.2 C383.8 314.2 366.2 323.9 350.4 331.0 C334.6 338.1 324.4 343.2 310.0 348.0 C295.6 352.8 271.5 358.0 263.8 360.0 Z" fill="#3c3c3c"/>
<rect x="76.25" y="115.5" width="58.75" height="58.25" fill="#0d5cb6"/>
<line x1="152" y1="163.5" x2="391" y2="163.5" stroke="#222" stroke-width="1.3"/>
<circle cx="440.6" cy="36.6" r="18.5" fill="#fff"/>
<circle cx="440.6" cy="36.6" r="17.5" fill="none" stroke="#4a6fa0" stroke-width="0.8"/>
<path d="M426 30 A15 15 0 0 1 455 30" fill="none" stroke="#e0503a" stroke-width="2.2" stroke-dasharray="2 1.3"/>
<circle cx="440" cy="35" r="10.5" fill="#0d5cb6"/>
<path d="M437 28 C442 32 443 40 436 45 M441 30 C446 34 447 42 441 46 M445 32 C449 36 449 43 446 46" fill="none" stroke="#fff" stroke-width="1.2"/>
</svg>
<div style="left:76.25px;top:115.5px;width:58.75px;height:58.25px;line-height:58px;text-align:center;color:#fff;font-weight:bold;font-size:49px;letter-spacing:-1px;transform:scaleX(0.91)">10</div>
<div style="left:149.5px;top:114.5px;font-size:33px;line-height:40px;font-weight:bold;color:#1259b2;white-space:nowrap">资金的退出</div>
<div style="left:151px;top:174px;font-size:12px;line-height:18px;color:#333;white-space:nowrap">主要告诉投资者如何收回投资，什么时间收回<br>投资，大约有多少回报率等情况。</div>
<div style="left:7px;top:343px;font-size:9px;line-height:11px;color:#fff;white-space:nowrap">111</div>
<div style="left:27px;top:344px;font-size:7px;line-height:9px;color:#fff;white-space:nowrap">Business plan | <b>商业计划书</b></div>
<div style="left:352px;top:345px;font-size:6px;line-height:8px;color:#999;white-space:nowrap">www.pptgenius.com | 内部资料 禁止外传</div>
</div>

</body></html>
